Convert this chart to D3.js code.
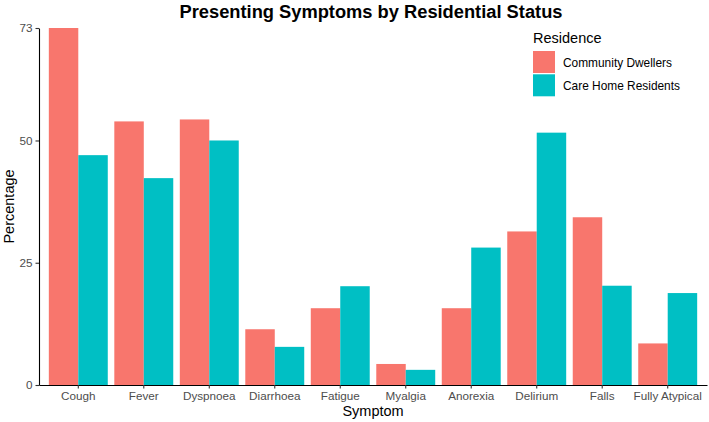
<!DOCTYPE html>
<html>
<head>
<meta charset="utf-8">
<script src="https://cdn.jsdelivr.net/npm/d3@7"></script>
<style>
  html, body { margin: 0; padding: 0; background: #fff; }
  svg { display: block; font-family: "Liberation Sans", Arial, sans-serif; }
</style>
</head>
<body>
<svg id="chart" width="709" height="422"></svg>
<script>
const symptoms = ["Cough", "Fever", "Dyspnoea", "Diarrhoea", "Fatigue", "Myalgia", "Anorexia", "Delirium", "Falls", "Fully Atypical"];
const residences = ["Community Dwellers", "Care Home Residents"];
const communityDwellers = [73.0, 53.9, 54.3, 11.4, 15.7, 4.3, 15.7, 31.4, 34.3, 8.5];
const careHomeResidents = [47.0, 42.3, 50.0, 7.8, 20.2, 3.1, 28.1, 51.6, 20.3, 18.8];
const yTicks = [0, 25, 50, 73];
const colors = ["#F8766D", "#00BFC4"];

const title = "Presenting Symptoms by Residential Status";
const xTitle = "Symptom";
const yTitle = "Percentage";
const legendTitle = "Residence";

const svg = d3.select("#chart");
const panel = { left: 39, right: 707, top: 28, bottom: 385 };

const x = d3.scaleBand().domain(symptoms).range([panel.left, panel.right])
  .paddingInner(0.1).paddingOuter(0.15);
const xSub = d3.scaleBand().domain(residences).range([0, x.bandwidth()]);
const y = d3.scaleLinear().domain([0, 73]).range([panel.bottom, panel.top]);
const color = d3.scaleOrdinal().domain(residences).range(colors);

const rows = symptoms.map((s, i) => ({
  symptom: s,
  values: [
    { key: residences[0], value: communityDwellers[i] },
    { key: residences[1], value: careHomeResidents[i] }
  ]
}));

// bars
const g = svg.append("g");
g.selectAll("g.cat").data(rows).join("g")
  .attr("class", "cat")
  .attr("transform", d => `translate(${x(d.symptom)},0)`)
  .selectAll("rect").data(d => d.values).join("rect")
  .attr("x", d => xSub(d.key))
  .attr("width", xSub.bandwidth())
  .attr("y", d => y(d.value))
  .attr("height", d => y(0) - y(d.value))
  .attr("fill", d => color(d.key));

// axes
const xAxis = svg.append("g")
  .attr("transform", `translate(0,${panel.bottom})`)
  .call(d3.axisBottom(x).tickSizeOuter(0).tickSizeInner(3.5).tickPadding(3));
const yAxis = svg.append("g")
  .attr("transform", `translate(${panel.left},0)`)
  .call(d3.axisLeft(y).tickValues(yTicks).tickFormat(d3.format("d")).tickSizeOuter(0).tickSizeInner(3.5).tickPadding(3));

[xAxis, yAxis].forEach(a => {
  a.select(".domain").attr("stroke", "#000").attr("stroke-width", 1.1);
  a.selectAll(".tick line").attr("stroke", "#333").attr("stroke-width", 1.1);
  a.selectAll(".tick text").attr("fill", "#4D4D4D").attr("font-size", "11.7px")
    .attr("font-family", "Liberation Sans, Arial, sans-serif");
});

// titles
svg.append("text").attr("x", 371).attr("y", 18).attr("text-anchor", "middle")
  .attr("font-size", "18.3px").attr("font-weight", "bold").attr("fill", "#000").text(title);
svg.append("text").attr("x", (panel.left + panel.right) / 2).attr("y", 416).attr("text-anchor", "middle")
  .attr("font-size", "14.5px").attr("fill", "#000").text(xTitle);
svg.append("text").attr("transform", `translate(14,${(panel.top + panel.bottom) / 2}) rotate(-90)`)
  .attr("text-anchor", "middle").attr("font-size", "14.5px").attr("fill", "#000").text(yTitle);

// legend
const lg = svg.append("g").attr("transform", "translate(533,0)");
lg.append("text").attr("x", 0).attr("y", 43).attr("font-size", "14.5px").attr("fill", "#000").text(legendTitle);
residences.forEach((r, i) => {
  const ky = 51 + i * 23.3;
  lg.append("rect").attr("x", 0).attr("y", ky).attr("width", 22).attr("height", 22).attr("fill", color(r));
  lg.append("text").attr("x", 30).attr("y", ky + 15.5).attr("font-size", "11.9px").attr("fill", "#000").text(r);
});
</script>
</body>
</html>
